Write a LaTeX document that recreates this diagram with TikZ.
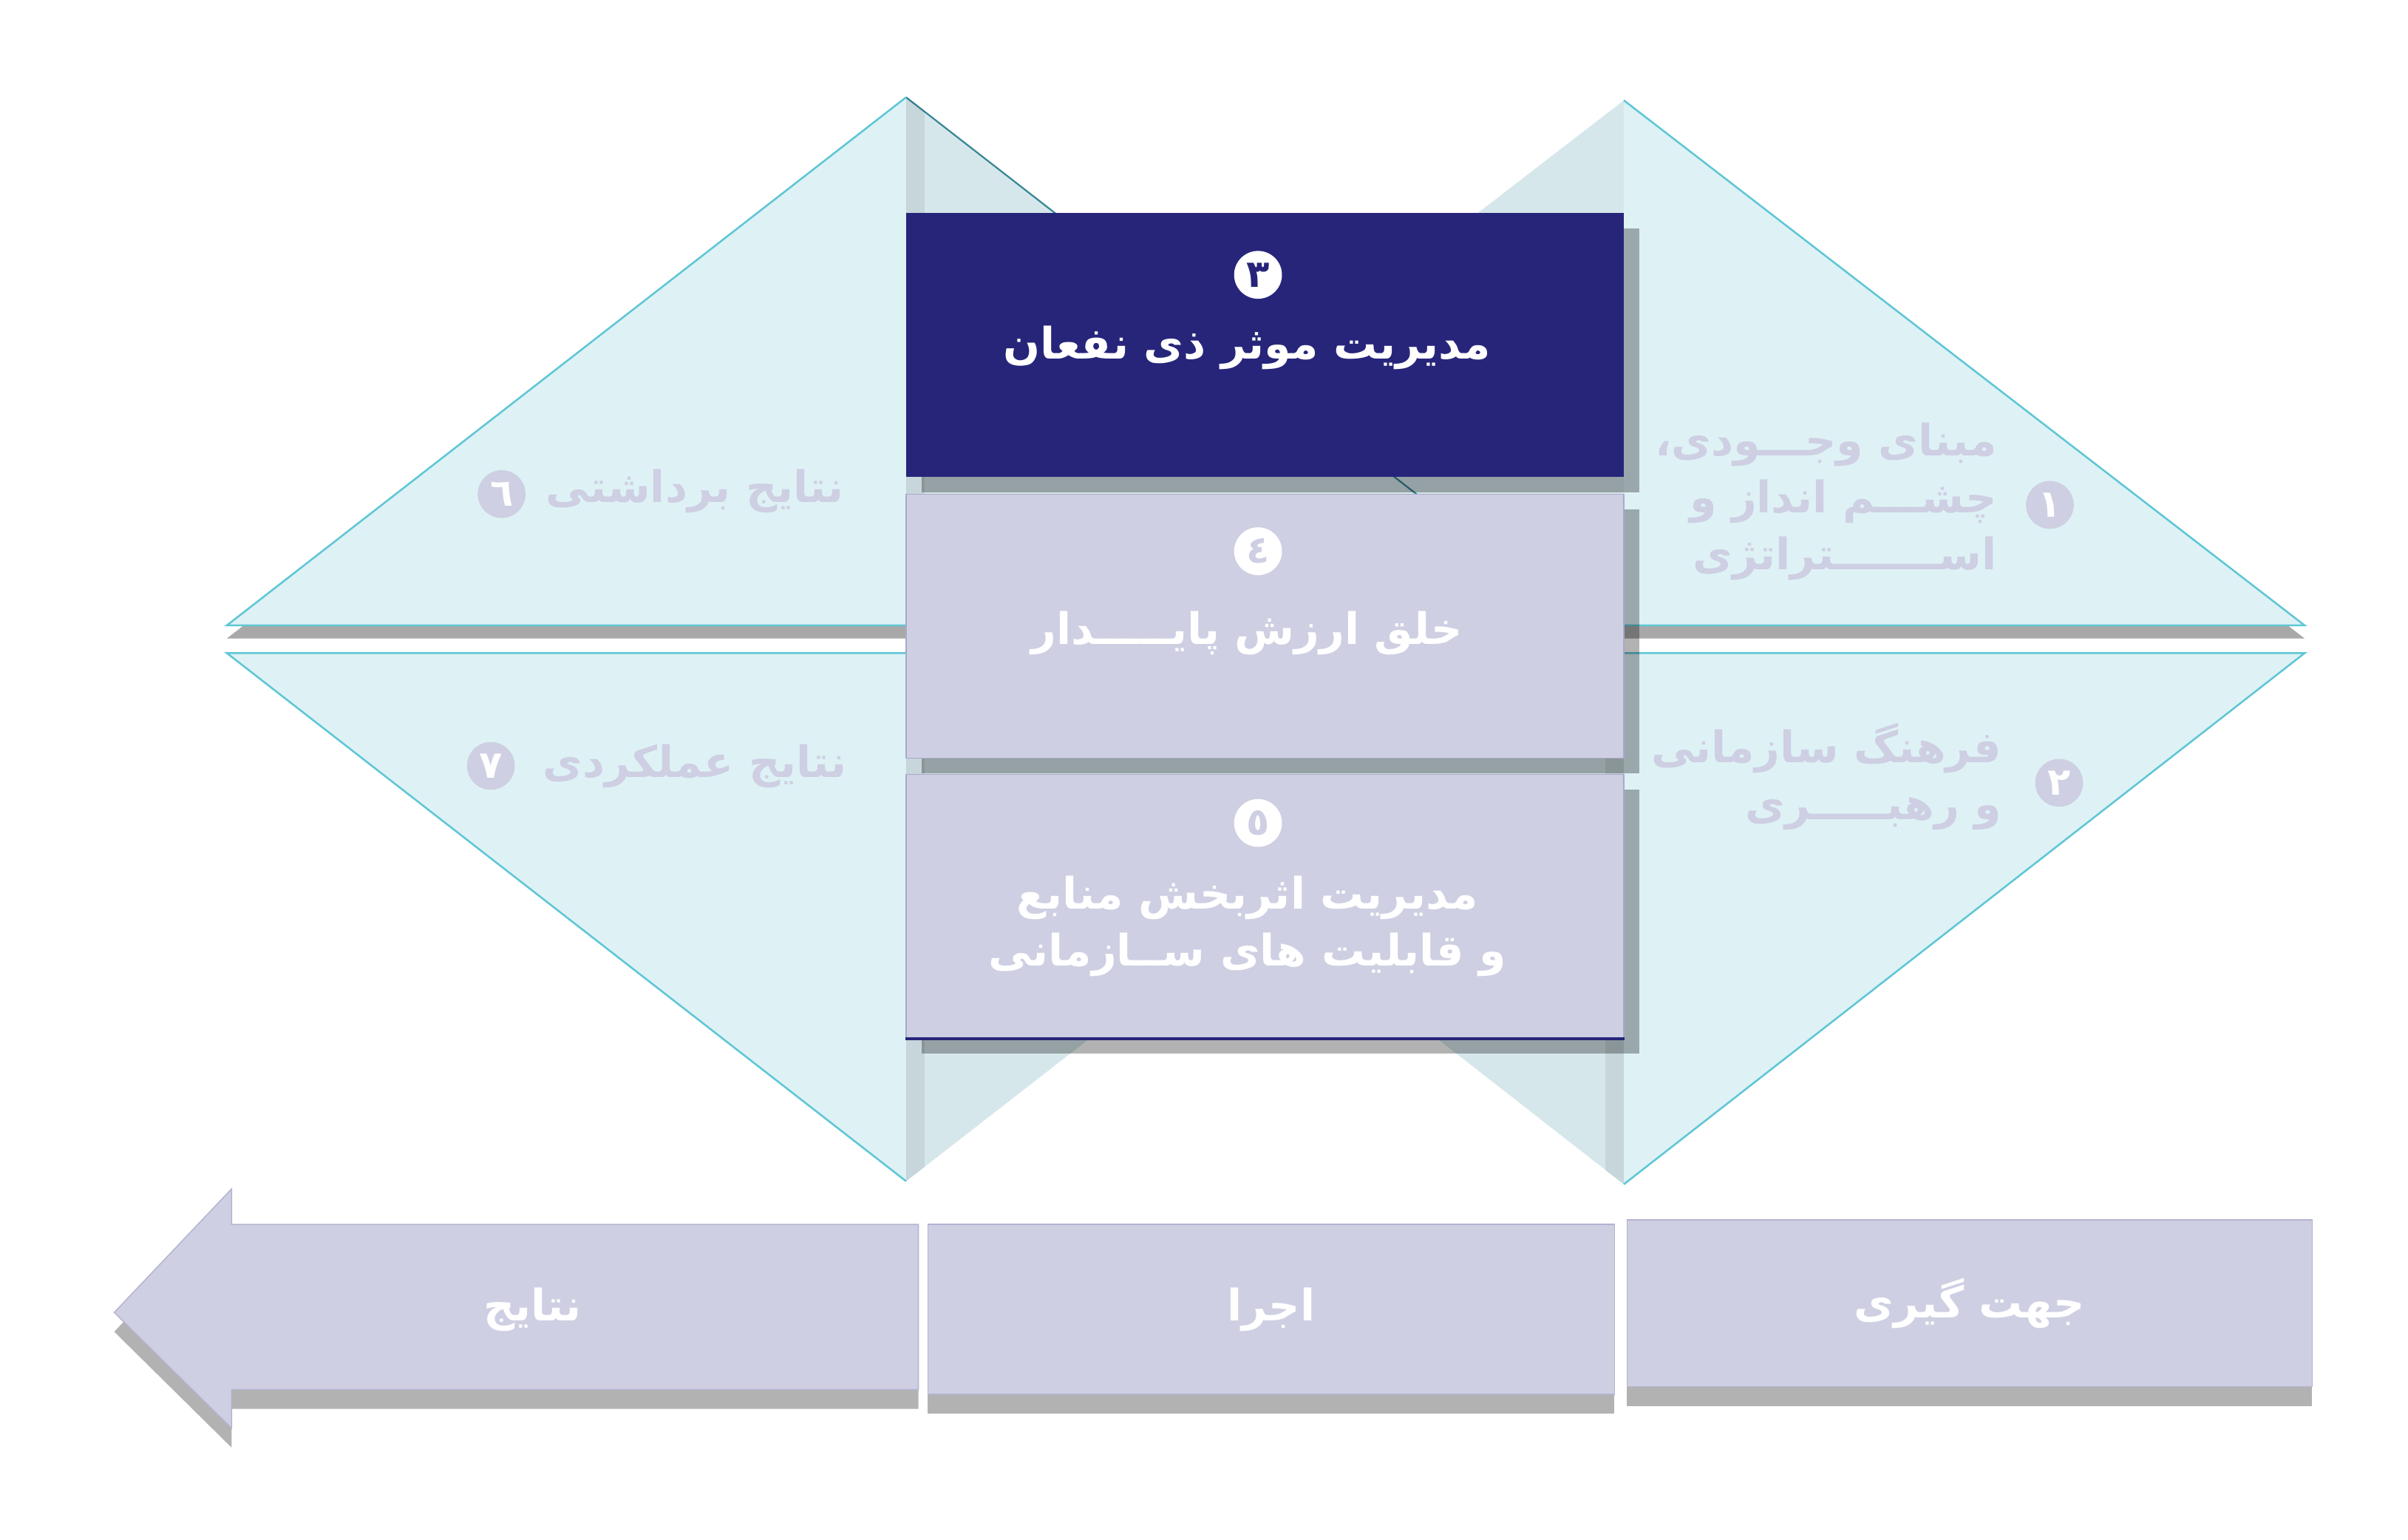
\documentclass[tikz,border=0pt]{standalone}
\usepackage{fontspec}
\usepackage{tikz}
\usetikzlibrary{shadows}
\usetikzlibrary{positioning}
\usetikzlibrary{calc}
\newfontfamily\arabicfont[Script=Arabic]{DejaVu Sans}
\TeXXeTstate=1
\newcommand{\fa}[1]{\beginR #1\endR}
\definecolor{navy}{RGB}{39,37,122}
\definecolor{lavender}{RGB}{206,207,226}
\definecolor{paleaqua}{RGB}{222,242,246}
\definecolor{foldaqua}{RGB}{214,231,235}
\definecolor{edgeaqua}{RGB}{96,199,213}
\definecolor{foldline}{RGB}{54,134,148}
\tikzstyle{farsi}=[font=\arabicfont\bfseries\fontsize{16}{21}\selectfont]
\tikzstyle{facet}=[fill=paleaqua]
\tikzstyle{edge}=[draw=edgeaqua,line width=0.7pt]
\tikzstyle{fold}=[fill=foldaqua]
\tikzstyle{stage}=[rectangle,minimum width=9.3cm,minimum height=3.42cm,inner sep=0pt,drop shadow={shadow xshift=0.2cm,shadow yshift=-0.2cm,fill=black,opacity=0.3}]
\tikzstyle{phase}=[rectangle,fill=lavender,draw=navy!35,line width=0.4pt,inner sep=0pt,farsi,text=white,drop shadow={shadow xshift=0cm,shadow yshift=-0.25cm,fill=black,opacity=0.3}]
\tikzstyle{badge}=[circle,minimum size=0.62cm,inner sep=0pt,font=\arabicfont\bfseries\fontsize{14}{14}\selectfont]
\tikzstyle{sidetext}=[farsi,text=lavender,align=right,anchor=east,inner sep=0pt]
\tikzstyle{boxtext}=[farsi,text=white,align=center,inner sep=0pt]

\begin{document}
\begin{tikzpicture}[x=0.02cm,y=-0.02cm]
  \useasboundingbox (0,0) rectangle (1560,997);

  % First we draw the hidden folds behind the stages
  \foreach \cx/\cy/\tx/\ay in {587/405/147/63, 1052/405/1493/65, 587/423/147/765, 1052/423/1493/767}
  {
    \pgfmathsetmacro{\mx}{2*\cx-\tx}
    \fill[fold] (\cx,\cy) -- (\mx,\cy) -- (\cx,\ay) -- cycle;
  }
  \draw[foldline, line width=0.6pt] (587,63) -- (1027,405);

  % Then the four outer facets, the upper two cast a shadow
  \foreach \cx/\cy/\tx/\ay in {587/405/147/63, 1052/405/1493/65}
  {
    \fill[facet, drop shadow={shadow xshift=0cm, shadow yshift=-0.17cm, fill=black!34, opacity=1}] (\cx,\cy) -- (\tx,\cy) -- (\cx,\ay) -- cycle;
    \draw[edge] (\cx,\cy) -- (\tx,\cy) -- (\cx,\ay);
  }
  \foreach \cx/\cy/\tx/\ay in {587/423/147/765, 1052/423/1493/767}
  {
    \fill[facet] (\cx,\cy) -- (\tx,\cy) -- (\cx,\ay) -- cycle;
    \draw[edge] (\cx,\cy) -- (\tx,\cy) -- (\cx,\ay);
  }
  % light creases along the folds
  \foreach \a/\b/\c/\d in {{(587,63)}/{(599,72)}/{(599,405)}/{(587,405)}, {(587,423)}/{(599,423)}/{(599,756)}/{(587,765)}, {(1052,423)}/{(1040,423)}/{(1040,758)}/{(1052,767)}}
    \fill[black, opacity=0.07] \a -- \b -- \c -- \d -- cycle;

  % The three stages in the middle
  \node[stage, fill=navy] (s3) at (819.5,223.5) {};
  \node[stage, fill=lavender, draw=navy!40, line width=0.4pt] (s4) at (819.5,405.5) {};
  \node[stage, fill=lavender, draw=navy!40, line width=0.4pt] (s5) at (819.5,587) {};
  \draw[navy, line width=1pt] (s5.south west) -- (s5.south east);

  % Numbered badges
  \foreach \pos/\name/\digit/\bg/\fg in {{(815,178)}/c3/٣/white/navy, {(815,357)}/c4/٤/white/lavender, {(815,533)}/c5/٥/white/lavender, {(1328,327)}/c1/١/lavender/white, {(1334,507)}/c2/٢/lavender/white, {(325,320)}/c6/٦/lavender/white, {(318,496)}/c7/٧/lavender/white}
    \node[badge, fill=\bg, text=\fg] (\name) at \pos {\digit};

  % Labels of the stages and facets
  \node[boxtext] (l3) at (808,225) {\fa{مدیریت موثر ذی نفعان}};
  \node[boxtext] (l4) at (808,410) {\fa{خلق ارزش پایـــــدار}};
  \node[boxtext] (l5) at (808,600) {\fa{مدیریت اثربخش منابع}\\ \fa{و قابلیت های ســازمانی}};
  \node[sidetext] (l1) at (1294,325) {\fa{مبنای وجـــودی،}\\ \fa{چشـــم انداز و}\\ \fa{اســـــــتراتژی}};
  \node[sidetext] (l2) at (1297,503) {\fa{فرهنگ سازمانی}\\ \fa{و رهبـــــری}};
  \node[sidetext] (l6) at (547,318) {\fa{نتایج برداشتی}};
  \node[sidetext] (l7) at (549,496) {\fa{نتایج عملکردی}};

  % The bottom row, read from right to left
  \node[phase, minimum width=8.88cm, minimum height=2.16cm] (orient) at (1276,844) {\fa{جهت گیری}};
  \node[phase, minimum width=8.9cm, minimum height=2.2cm] (exec) at (823.5,848) {\fa{اجرا}};
  \filldraw[fill=lavender, draw=navy!35, line width=0.4pt, drop shadow={shadow xshift=0cm, shadow yshift=-0.25cm, fill=black, opacity=0.3}]
    (74,850) -- (150,770) -- (150,793) -- (595,793) -- (595,900) -- (150,900) -- (150,925) -- cycle;
  \node[farsi, text=white] (result) at (345,848) {\fa{نتایج}};
\end{tikzpicture}
\end{document}
